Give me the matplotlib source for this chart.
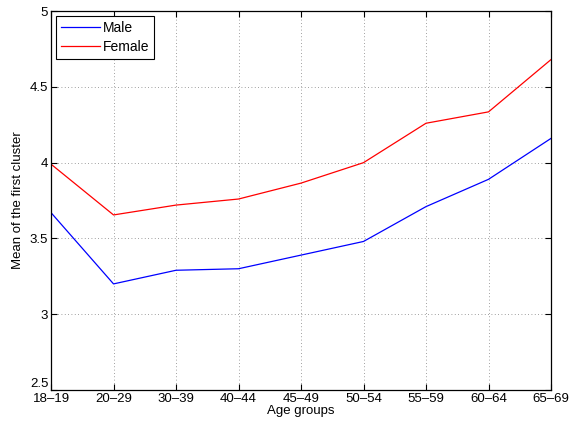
import matplotlib
matplotlib.use("Agg")
import matplotlib.pyplot as plt

# ---------------------------------------------------------------------------
# Data
# ---------------------------------------------------------------------------
age_groups = ["18\u201319", "20\u201329", "30\u201339", "40\u201344", "45\u201349",
              "50\u201354", "55\u201359", "60\u201364", "65\u201369"]
male = [3.67, 3.20, 3.29, 3.30, 3.39, 3.48, 3.71, 3.89, 4.16]
female = [3.99, 3.655, 3.72, 3.76, 3.865, 4.00, 4.26, 4.335, 4.68]
y_ticks = [2.5, 3, 3.5, 4, 4.5, 5]

plt.rcParams.update({
    "font.family": ["Liberation Sans", "DejaVu Sans"],
    "font.size": 9.5,
})

fig = plt.figure(figsize=(5.72, 4.26), dpi=100)
ax = fig.add_axes([0.0892, 0.0845, 0.8741, 0.8895])

x = list(range(len(age_groups)))
ax.plot(x, male, color="#0000ff", linewidth=0.9, label="Male")
ax.plot(x, female, color="#ff0000", linewidth=0.9, label="Female")

ax.set_xlim(0, len(age_groups) - 1)
ax.set_ylim(2.5, 5)
ax.set_xticks(x)
ax.set_xticklabels(age_groups)
ax.set_yticks(y_ticks)
ax.set_yticklabels([f"{v:g}" for v in y_ticks])
# lift the bottom y label a little so it clears "18-19"
ax.get_yticklabels()[0].set_verticalalignment("bottom")

ax.tick_params(direction="in", top=True, right=True, length=4, width=0.8,
               pad=2, labelsize=9.5)
ax.grid(True, linestyle=(0, (1, 3)), color="#808080", linewidth=0.6)
for s in ax.spines.values():
    s.set_linewidth(0.9)

ax.set_xlabel("Age groups", fontsize=9.5, labelpad=0)
ax.set_ylabel("Mean of the first cluster", fontsize=9.5, labelpad=4)

leg = ax.legend(loc="upper left", fancybox=False, edgecolor="black",
                framealpha=1, fontsize=10, borderaxespad=0.35,
                handlelength=2.8, borderpad=0.35, labelspacing=0.35,
                handletextpad=0.25)
leg.get_frame().set_linewidth(0.8)

fig.savefig("out.png", dpi=100)
